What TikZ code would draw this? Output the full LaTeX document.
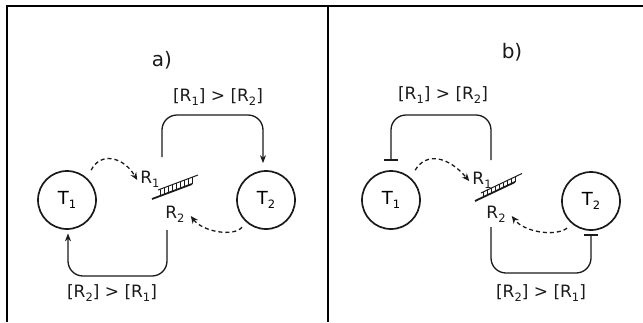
\documentclass[tikz,border=0pt]{standalone}
\usepackage{fontspec}
\setmainfont{DejaVu Sans}
\usetikzlibrary{arrows.meta,calc}
\newcommand\lsub[1]{\raisebox{-0.45ex}{\fontsize{11.5}{11.5}\selectfont #1}}
\newcommand\relab[2]{[R\lsub{#1}] > [R\lsub{#2}]}
\definecolor{ink}{HTML}{1A1A1A}
\begin{document}
\begin{tikzpicture}[x=1pt,y=-1pt,
  tok/.style={circle,draw=ink,line width=1.7pt,minimum size=58pt,inner sep=0pt,font=\fontsize{18}{18}\selectfont},
  lab/.style={font=\fontsize{17}{17}\selectfont,inner sep=0pt,text=ink},
  rlab/.style={font=\fontsize{17}{17}\selectfont,inner sep=1pt,text=ink},
  conn/.style={draw=ink,line width=1.3pt,rounded corners=15pt},
  dasharrow/.style={draw=ink,line width=1.3pt,dash pattern=on 4pt off 3pt,-{Stealth[length=7.5pt,width=6.5pt]}},
  frame/.style={draw=black,line width=1.8pt},
  rail/.style={draw=ink,line width=1.8pt},
  rung/.style={draw=ink,line width=0.9pt}]
\useasboundingbox (0,0) rectangle (643,322);
% frame
\draw[frame] (7,322) -- (7,6) -- (643,6);
\draw[frame] (328,6) -- (328,322);
% titles
\node[lab,font=\fontsize{20}{20}\selectfont] (ta) at (162,60) {a)};
\node[lab,font=\fontsize{20}{20}\selectfont] (tb) at (512,52) {b)};
% ---------- panel a ----------
\node[tok] (T1a) at (67,200) {T\lsub{1}};
\node[tok] (T2a) at (266,200) {T\lsub{2}};
\node[rlab] (R1a) at (150,179) {R\lsub{1}};
\node[rlab] (R2a) at (175,214) {R\lsub{2}};
% ladder a
\draw[rail] (152,199) -- (192,184);
\draw[rail,line width=1pt] (158,190) -- (198,175);
\foreach \t in {0,...,8} {
  \pgfmathsetmacro\xx{160+4*\t}
  \draw[rung] (\xx,{199-0.375*(\xx-152)}) -- (\xx,{190-0.375*(\xx-158)});
}
% dashed arrows a
\draw[dasharrow] ([shift={(5,-7)}]T1a.50) .. controls (100,152) and (123,156) .. ([shift={(-2,1)}]R1a.west);
\draw[dasharrow] ([shift={(-4,5)}]T2a.228) .. controls (234,237) and (203,232) .. ([shift={(5,2)}]R2a.east);
% solid connectors a
\coordinate (sa1) at (162,157);
\coordinate (ha1) at (212,115);
\draw[conn,-{Stealth[length=8pt,width=6pt]},shorten >=7pt] (sa1) |- (ha1) -| ([xshift=-3pt]T2a.north);
\coordinate (sa2) at (167,230);
\coordinate (ha2) at (117,276);
\draw[conn,-{Stealth[length=8pt,width=6pt]},shorten >=3.5pt] (sa2) |- (ha2) -| ([xshift=1pt]T1a.south);
\node[lab] (La1) at (218,97) {\relab{1}{2}};
\node[lab] (La2) at (112,293) {\relab{2}{1}};
% ---------- panel b ----------
\node[tok] (T1b) at (391,200) {T\lsub{1}};
\node[tok] (T2b) at (591,201) {T\lsub{2}};
\node[rlab] (R1b) at (482,180) {R\lsub{1}};
\node[rlab] (R2b) at (496,214) {R\lsub{2}};
% ladder b
\draw[rail] (475,201) -- (515,182);
\draw[rail,line width=1pt] (481,193) -- (522,173.5);
\foreach \t in {0,...,8} {
  \pgfmathsetmacro\xx{483+4*\t}
  \draw[rung] (\xx,{201-0.475*(\xx-475)}) -- (\xx,{193-0.475*(\xx-481)});
}
% dashed arrows b
\draw[dasharrow] ([shift={(5,-7)}]T1b.50) .. controls (426,152) and (448,156) .. ([shift={(-2,1)}]R1b.west);
\draw[dasharrow] ([shift={(-4,5)}]T2b.228) .. controls (555,237) and (524,232) .. ([shift={(5,2)}]R2b.east);
% solid connectors b
\coordinate (sb1) at (491,160);
\coordinate (hb1) at (441,115);
\draw[conn,-{Bar[width=14pt,line width=1.3pt]},shorten >=9.5pt] (sb1) |- (hb1) -| (T1b.north);
\coordinate (sb2) at (491,227);
\coordinate (hb2) at (541,273);
\draw[conn,-{Bar[width=14pt,line width=1.3pt]},shorten >=3.5pt] (sb2) |- (hb2) -| (T2b.south);
\node[lab] (Lb1) at (443,95) {\relab{1}{2}};
\node[lab] (Lb2) at (541,293) {\relab{2}{1}};
\end{tikzpicture}
\end{document}
